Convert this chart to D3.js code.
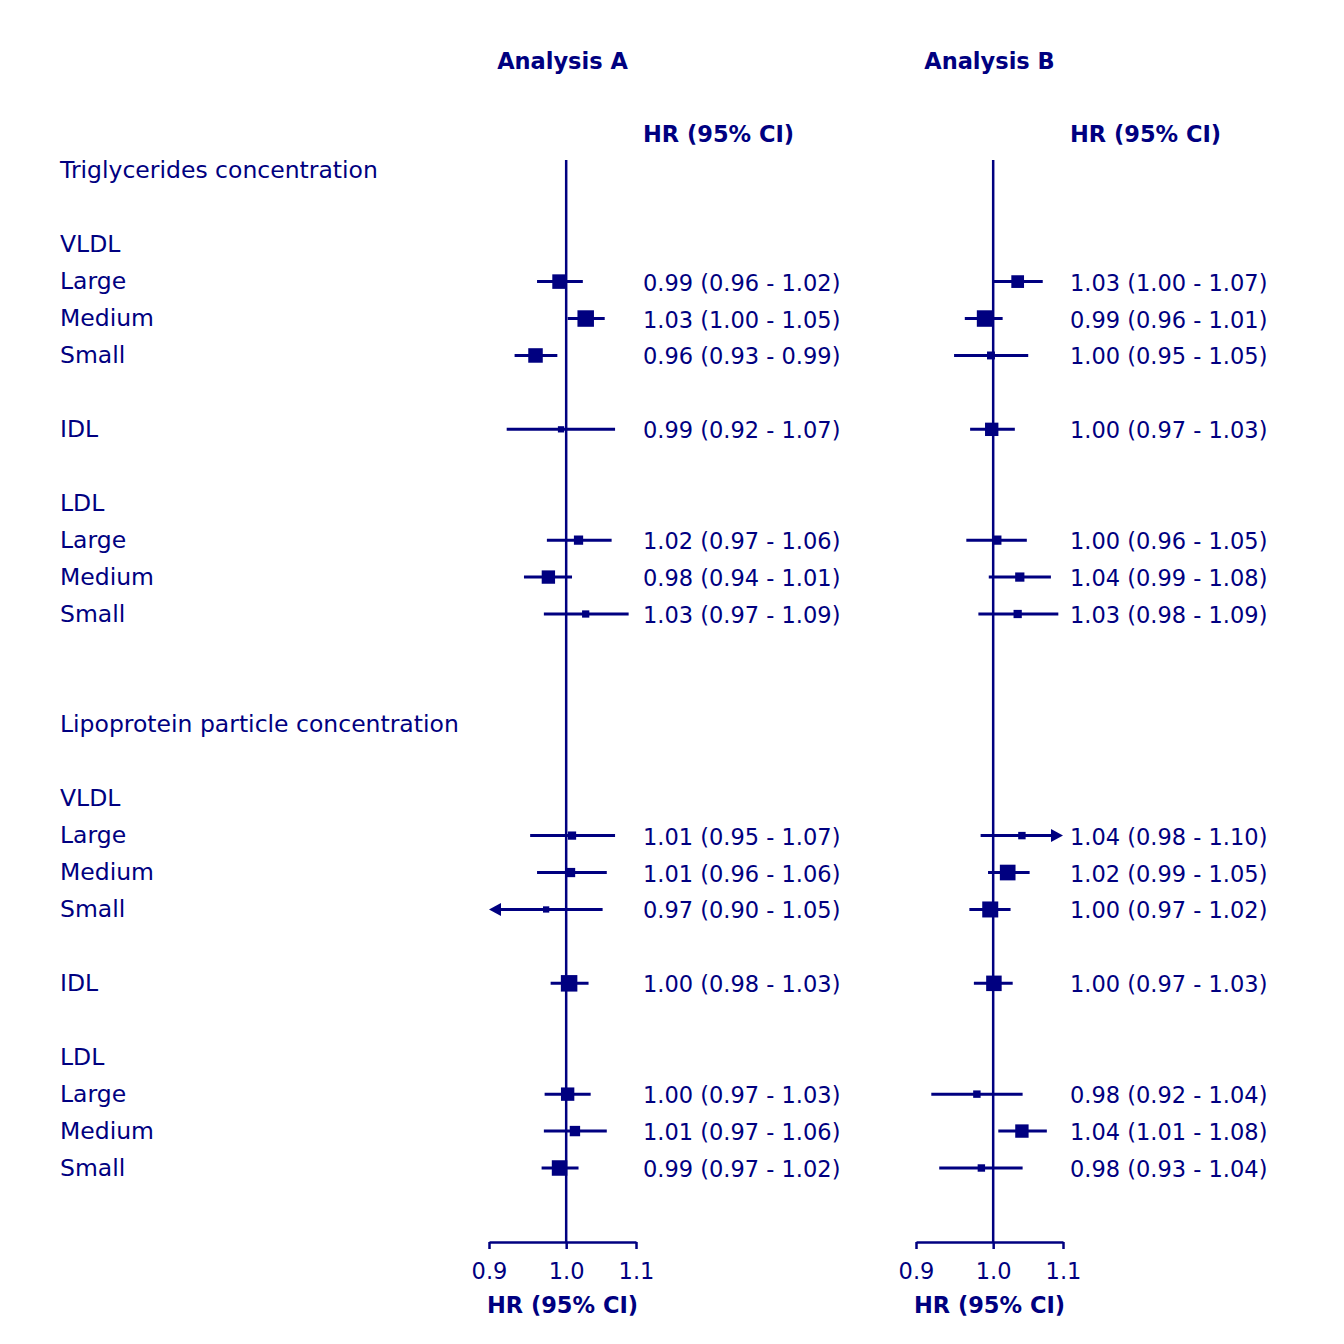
<!DOCTYPE html>
<html>
<head>
<meta charset="utf-8">
<script src="https://cdn.jsdelivr.net/npm/d3@7"></script>
<style>
  body { margin: 0; background: #fff; }
  svg { display: block; }
  text { font-family: "DejaVu Sans", sans-serif; fill: #000080; }
</style>
</head>
<body>
<svg id="chart" width="1344" height="1344"></svg>
<script>
// ---------- data ----------
const panelTitles = ["Analysis A", "Analysis B"];
const colHeader = "HR (95% CI)";
const axisTitle = "HR (95% CI)";
const tickValues = [0.9, 1.0, 1.1];

// row labels (row index -> text)
const rowLabels = [
  [0, "Triglycerides concentration"],
  [2, "VLDL"], [3, "Large"], [4, "Medium"], [5, "Small"],
  [7, "IDL"],
  [9, "LDL"], [10, "Large"], [11, "Medium"], [12, "Small"],
  [15, "Lipoprotein particle concentration"],
  [17, "VLDL"], [18, "Large"], [19, "Medium"], [20, "Small"],
  [22, "IDL"],
  [24, "LDL"], [25, "Large"], [26, "Medium"], [27, "Small"]
];
// rows that carry estimates
const dataRows = [3, 4, 5, 7, 10, 11, 12, 18, 19, 20, 22, 25, 26, 27];

// Analysis A
const estA = [0.991, 1.027, 0.959, 0.993, 1.017, 0.976, 1.027, 1.008, 1.006, 0.973, 1.004, 1.002, 1.012, 0.991];
const loA  = [0.961, 1.002, 0.932, 0.922, 0.974, 0.944, 0.970, 0.952, 0.961, 0.898, 0.979, 0.971, 0.970, 0.967];
const hiA  = [1.023, 1.054, 0.988, 1.069, 1.064, 1.008, 1.089, 1.069, 1.057, 1.051, 1.031, 1.034, 1.057, 1.017];
const wtA  = [0.88, 1.00, 0.88, 0.38, 0.56, 0.81, 0.44, 0.50, 0.56, 0.38, 1.00, 0.81, 0.63, 0.94];

// Analysis B
const estB = [1.034, 0.989, 0.997, 0.998, 1.005, 1.037, 1.034, 1.040, 1.020, 0.996, 1.001, 0.978, 1.040, 0.984];
const loB  = [1.001, 0.962, 0.948, 0.969, 0.964, 0.994, 0.980, 0.983, 0.993, 0.968, 0.974, 0.919, 1.007, 0.929];
const hiB  = [1.070, 1.013, 1.049, 1.030, 1.047, 1.082, 1.093, 1.101, 1.051, 1.024, 1.027, 1.041, 1.076, 1.041];
const wtB  = [0.77, 1.00, 0.48, 0.81, 0.56, 0.56, 0.50, 0.45, 0.95, 0.97, 0.94, 0.45, 0.81, 0.45];

// ---------- layout ----------
const color = "#000080";
const fs = 22.5;
const fsLabel = 23.5;
const svg = d3.select("#chart");

const y = d3.scaleLinear().domain([0, 27]).range([170.8, 1168]);
const boxSize = d3.scaleLinear().domain([0, 1]).range([0, 16.5]);
const axisY = 1242;
const lineTop = 160;

const panels = [
  { title: panelTitles[0], est: estA, lo: loA, hi: hiA, wt: wtA, range: [489, 636], textX: 643 },
  { title: panelTitles[1], est: estB, lo: loB, hi: hiB, wt: wtB, range: [916, 1063], textX: 1070 }
];

// row labels
svg.append("g").selectAll("text").data(rowLabels).join("text")
  .attr("x", 60).attr("y", d => y(d[0]) + 7.5)
  .attr("font-size", fsLabel)
  .text(d => d[1]);

const f2 = d3.format(".2f");

panels.forEach(p => {
  const x = d3.scaleLog().domain([0.9, 1.1]).range(p.range);
  const g = svg.append("g");
  const cx = (p.range[0] + p.range[1]) / 2;

  // title
  g.append("text").attr("x", cx).attr("y", 68.5).attr("text-anchor", "middle")
    .attr("font-size", fs).attr("font-weight", "bold").text(p.title);
  // column header
  g.append("text").attr("x", p.textX).attr("y", 142)
    .attr("font-size", fs).attr("font-weight", "bold").text(colHeader);

  // reference line
  g.append("line").attr("x1", x(1)).attr("x2", x(1)).attr("y1", lineTop).attr("y2", axisY)
    .attr("stroke", color).attr("stroke-width", 2.5);

  // axis
  const ax = g.append("g").attr("transform", `translate(0,${axisY})`)
    .call(d3.axisBottom(x).tickValues(tickValues).tickFormat(d3.format(".1f"))
      .tickSize(7).tickSizeOuter(0).tickPadding(14));
  ax.select(".domain").attr("stroke", color).attr("stroke-width", 2.5);
  ax.selectAll(".tick line").attr("stroke", color).attr("stroke-width", 2.5);
  ax.selectAll(".tick text").attr("fill", color).attr("font-size", fs)
    .attr("font-family", "DejaVu Sans, sans-serif");

  g.append("text").attr("x", cx).attr("y", 1313).attr("text-anchor", "middle")
    .attr("font-size", fs).attr("font-weight", "bold").text(axisTitle);

  const rows = dataRows.map((r, i) => ({ r, est: p.est[i], lo: p.lo[i], hi: p.hi[i], wt: p.wt[i] }));
  const [dmin, dmax] = x.domain();
  const ah = 12, aw = 6.5;

  rows.forEach(d => {
    const yy = y(d.r);
    const lowClip = d.lo < dmin, highClip = d.hi > dmax;
    const xl = lowClip ? x(dmin) + ah : x(d.lo);
    const xr = highClip ? x(dmax) - ah : x(d.hi);
    g.append("line").attr("x1", xl).attr("x2", xr).attr("y1", yy).attr("y2", yy)
      .attr("stroke", color).attr("stroke-width", 3);
    if (lowClip) {
      const t = x(dmin);
      g.append("path").attr("d", `M${t},${yy}L${t + ah},${yy - aw}L${t + ah},${yy + aw}Z`).attr("fill", color);
    }
    if (highClip) {
      const t = x(dmax);
      g.append("path").attr("d", `M${t},${yy}L${t - ah},${yy - aw}L${t - ah},${yy + aw}Z`).attr("fill", color);
    }
    const s = boxSize(d.wt);
    g.append("rect").attr("x", x(d.est) - s / 2).attr("y", yy - s / 2)
      .attr("width", s).attr("height", s).attr("fill", color);

    g.append("text").attr("x", p.textX).attr("y", yy + 9)
      .attr("font-size", fs)
      .text(`${f2(d.est)} (${f2(d.lo)} - ${f2(d.hi)})`);
  });
});
</script>
</body>
</html>
